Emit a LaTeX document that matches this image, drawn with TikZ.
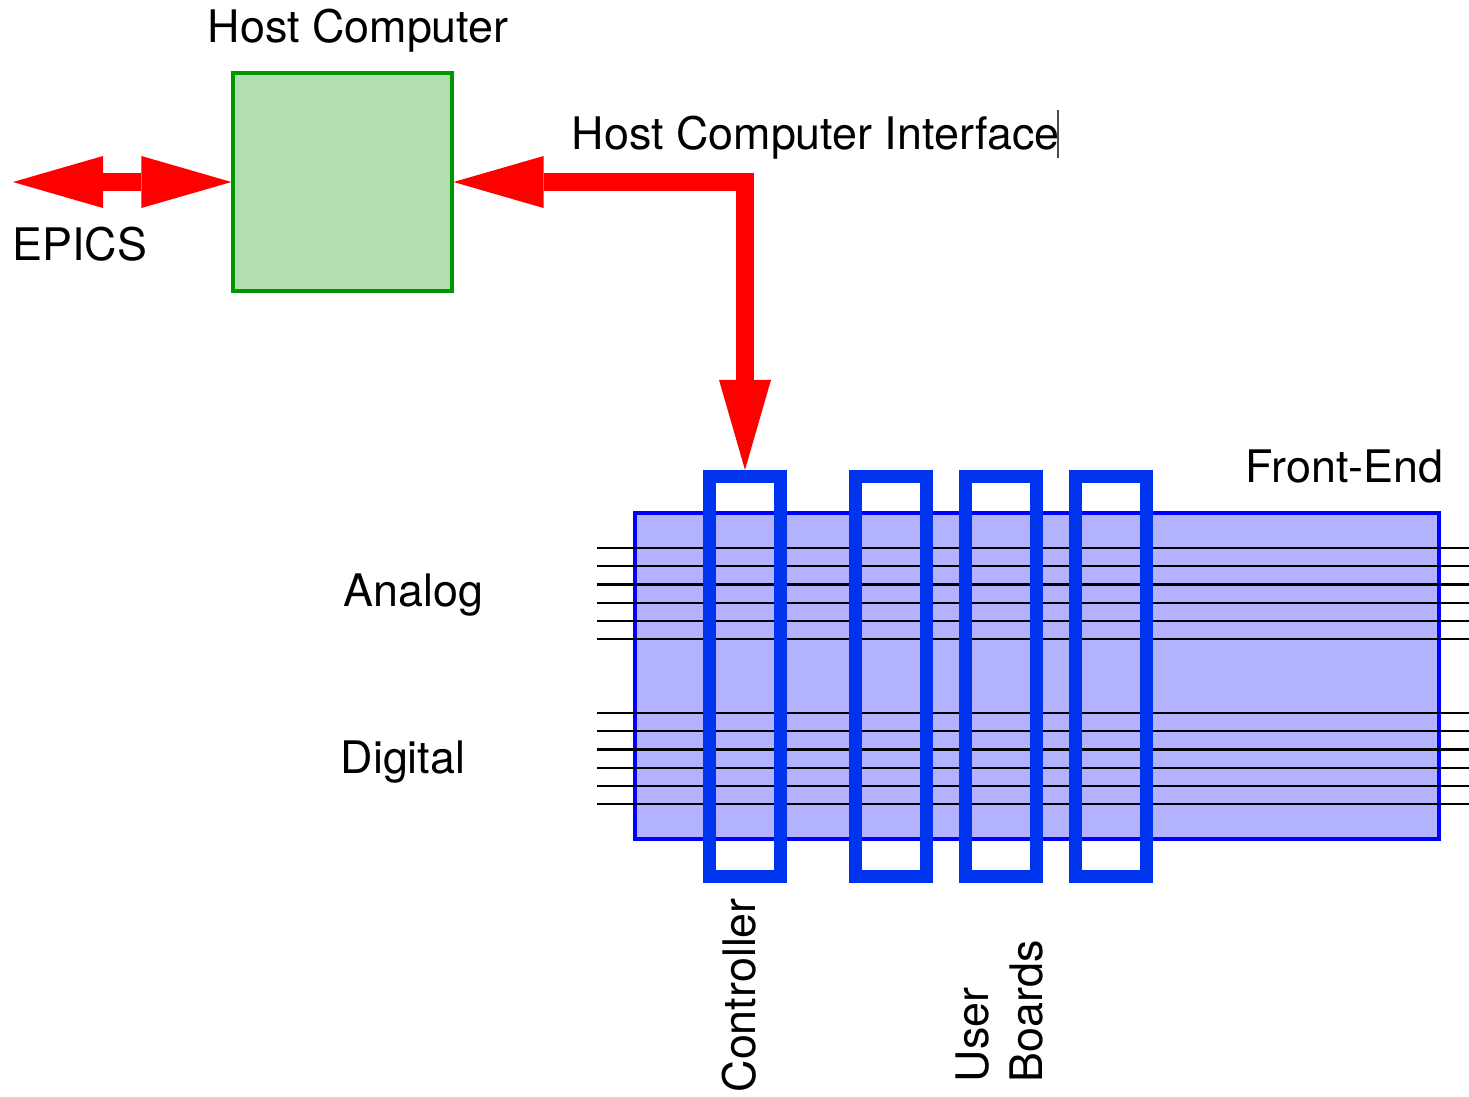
\documentclass[tikz,border=0pt]{standalone}
\usepackage{fontspec}
\setmainfont{TeX Gyre Heros}
\usetikzlibrary{arrows.meta}
\definecolor{hostgreen}{RGB}{0,150,0}
\definecolor{hostfill}{RGB}{178,222,178}
\definecolor{feblue}{RGB}{0,0,255}
\definecolor{fefill}{RGB}{178,178,255}
\definecolor{slotblue}{RGB}{0,51,238}

\begin{document}
\begin{tikzpicture}[x=0.01cm, y=-0.01cm, >=latex]
		\useasboundingbox (0,0) rectangle (1469,1096);
		\tikzstyle{txt} = [inner sep=0, font=\fontsize{12.75}{15}\selectfont, anchor=base west]
		\tikzstyle{bigarrow} = [red, line width=0.18cm,
			{Triangle[length=0.9cm, width=0.52cm, line width=0pt]}-{Triangle[length=0.9cm, width=0.52cm, line width=0pt]}]
		\tikzstyle{slot} = [draw=slotblue, line width=0.13cm, minimum width=0.71cm, minimum height=4cm, inner sep=0]

		\node [draw=hostgreen, fill=hostfill, line width=0.04cm, minimum size=2.18cm, inner sep=0] (host) at (342.5,182) {};
		\node [draw=feblue, fill=fefill, line width=0.045cm, minimum width=8.04cm, minimum height=3.26cm, inner sep=0] (fe) at (1037,676) {};

		% analog and digital lines
		\foreach \i in {0,...,5} {
			\draw [line width=0.022cm] (597,{548+18.2*\i}) -- (1469,{548+18.2*\i});
			\draw [line width=0.022cm] (597,{713+18.2*\i}) -- (1469,{713+18.2*\i});
		}

		\node [slot] (ctrl) at (745,676.5) {};
		\node [slot] (ub1) at (891,676.5) {};
		\node [slot] (ub2) at (1001,676.5) {};
		\node [slot] (ub3) at (1111,676.5) {};

		\coordinate (epics) at (13,182);
		\draw [bigarrow] (epics) -- (host.west);
		\draw [bigarrow] (host.east) -| (ctrl.north);

		\node [txt] (hcl) at (207,42) {Host Computer};
		\node [txt] (hci) at (571,149) {Host Computer Interface};
		\draw [line width=0.012cm, black!70] (1058,110) -- (1058,158);
		\node [txt] (epl) at (12,260) {EPICS};
		\node [txt] (fel) at (1245,482) {Front-End};
		\node [txt] (anl) at (343,606) {Analog};
		\node [txt] (dgl) at (340,773) {Digital};
		\node [txt, rotate=90] (ctl) at (755,1093) {Controller};
		\node [txt, rotate=90] (usl) at (988,1083) {User};
		\node [txt, rotate=90] (bdl) at (1042,1083) {Boards};
\end{tikzpicture}
\end{document}
